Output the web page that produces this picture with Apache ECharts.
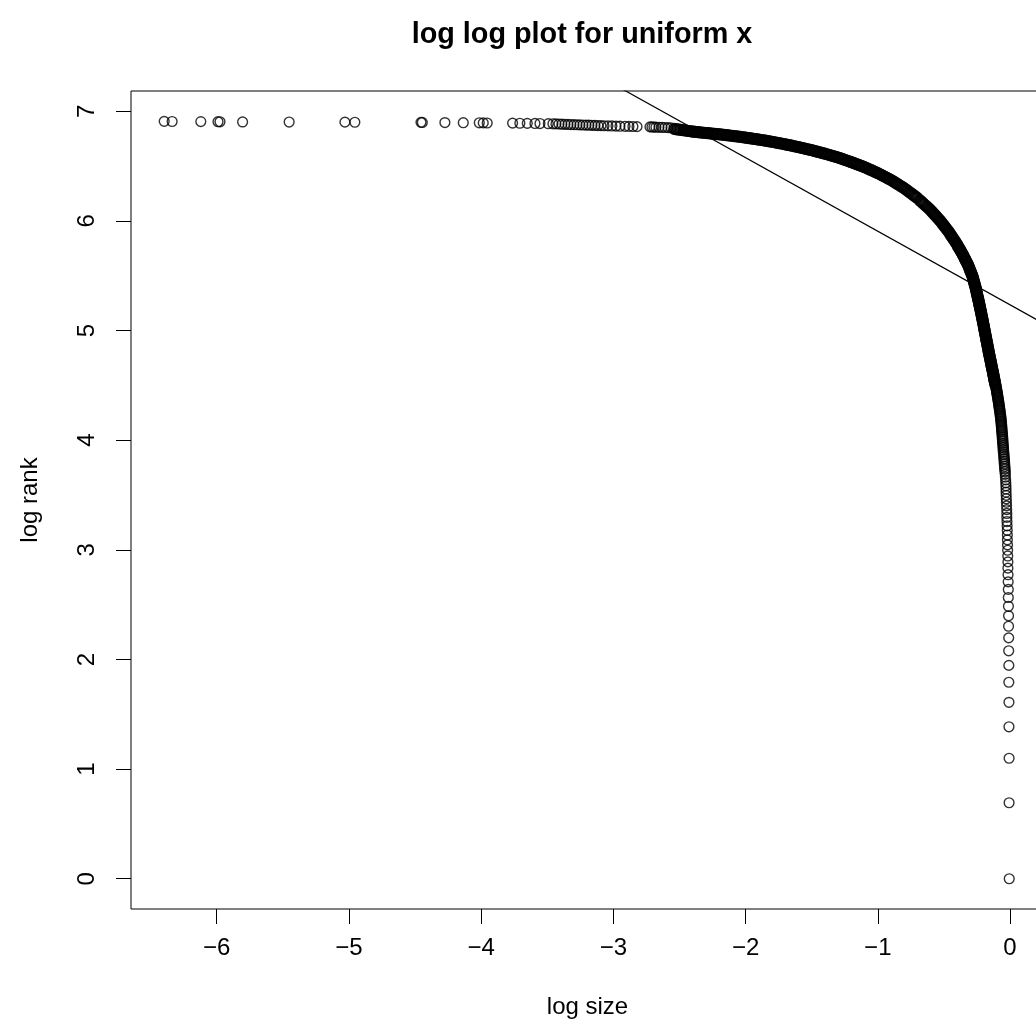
<!DOCTYPE html>
<html>
<head>
<meta charset="utf-8">
<script src="https://cdn.jsdelivr.net/npm/echarts@6/dist/echarts.min.js"></script>
<style>
html,body{margin:0;padding:0;background:#fff;}
#chart{width:1036px;height:1035px;}
</style>
</head>
<body>
<div id="chart"></div>
<script>
// ---- data ----
const titleText = 'log log plot for uniform x';
const xName = 'log size';
const yName = 'log rank';
const xTicks = [-6, -5, -4, -3, -2, -1, 0];
const yTicks = [0, 1, 2, 3, 4, 5, 6, 7];

// sparse left tail (highest ranks)
const tailSize = [-6.397,-6.337,-6.120,-5.990,-5.975,-5.804,-5.452,-5.030,-4.955,-4.455,-4.445,-4.274,-4.135,-4.014,-3.984,-3.954,-3.762,-3.707,-3.651,-3.593,-3.555,-3.492,
-3.457,-3.434,-3.411,-3.389,-3.366,-3.343,-3.321,-3.298,-3.275,-3.253,-3.230,-3.207,-3.185,-3.162,-3.139,-3.117,-3.094,-3.071,-3.041,-3.011,-2.980,-2.950,-2.912,-2.882,-2.852,-2.821,
-2.723,-2.708,-2.693,-2.678,-2.655,-2.632,-2.610,-2.587,-2.564];
const tailRank = [6.908,6.907,6.906,6.905,6.904,6.903,6.902,6.901,6.900,6.899,6.898,6.897,6.896,6.895,6.894,6.893,6.892,6.891,6.890,6.889,6.888,6.887,
6.886,6.885,6.884,6.882,6.881,6.880,6.879,6.878,6.877,6.876,6.875,6.874,6.873,6.872,6.871,6.870,6.869,6.868,6.867,6.866,6.865,6.864,6.863,6.862,6.861,6.860,
6.858,6.857,6.856,6.855,6.854,6.853,6.852,6.851,6.850];

// dense upper band (flat part)
const bandASize = [-2.54,-2.53,-2.52,-2.51,-2.50,
-2.49,-2.48,-2.47,-2.46,-2.45,-2.44,-2.43,-2.42,-2.41,-2.40,
-2.39,-2.38,-2.37,-2.36,-2.35,-2.34,-2.33,-2.32,-2.31,-2.30,
-2.29,-2.28,-2.27,-2.26,-2.25,-2.24,-2.23,-2.22,-2.21,-2.20,
-2.19,-2.18,-2.17,-2.16,-2.15,-2.14,-2.13,-2.12,-2.11,-2.10,
-2.09,-2.08,-2.07,-2.06,-2.05,-2.04,-2.03,-2.02,-2.01,-2.00,
-1.99,-1.98,-1.97,-1.96,-1.95,-1.94,-1.93,-1.92,-1.91,-1.90,
-1.89,-1.88,-1.87,-1.86,-1.85,-1.84,-1.83,-1.82,-1.81,-1.80,
-1.79,-1.78,-1.77,-1.76,-1.75,-1.74,-1.73,-1.72,-1.71,-1.70,
-1.69,-1.68,-1.67,-1.66,-1.65,-1.64,-1.63,-1.62,-1.61,-1.60,
-1.59,-1.58,-1.57,-1.56,-1.55,-1.54,-1.53,-1.52,-1.51,-1.50,
-1.49,-1.48,-1.47,-1.46,-1.45,-1.44,-1.43,-1.42,-1.41,-1.40,
-1.39,-1.38,-1.37,-1.36,-1.35,-1.34,-1.33,-1.32,-1.31,-1.30,
-1.29,-1.28,-1.27,-1.26,-1.25,-1.24,-1.23,-1.22,-1.21,-1.20,
-1.19,-1.18,-1.17,-1.16,-1.15,-1.14,-1.13,-1.12,-1.11,-1.10,
-1.09,-1.08,-1.07,-1.06,-1.05,-1.04,-1.03,-1.02,-1.01,-1.00,
-0.99,-0.98,-0.97,-0.96,-0.95,-0.94,-0.93,-0.92,-0.91,-0.90,
-0.89,-0.88,-0.87,-0.86,-0.85,-0.84,-0.83,-0.82,-0.81,-0.80,
-0.79,-0.78,-0.77,-0.76,-0.75,-0.74,-0.73,-0.72,-0.71,-0.70];
const bandARank = [6.839,6.837,6.835,6.834,6.832,
6.830,6.829,6.827,6.825,6.824,6.822,6.820,6.818,6.817,6.815,
6.814,6.812,6.811,6.810,6.808,6.807,6.806,6.804,6.803,6.802,
6.801,6.800,6.798,6.797,6.796,6.795,6.794,6.792,6.791,6.790,
6.789,6.787,6.786,6.784,6.783,6.782,6.780,6.779,6.777,6.776,
6.774,6.773,6.771,6.770,6.768,6.766,6.765,6.763,6.762,6.760,
6.758,6.756,6.755,6.753,6.751,6.749,6.747,6.746,6.744,6.742,
6.740,6.738,6.736,6.734,6.732,6.730,6.728,6.726,6.724,6.722,
6.720,6.717,6.715,6.713,6.710,6.708,6.706,6.704,6.701,6.699,
6.696,6.694,6.691,6.689,6.686,6.683,6.681,6.678,6.676,6.673,
6.670,6.667,6.665,6.662,6.659,6.656,6.653,6.651,6.648,6.645,
6.642,6.639,6.635,6.632,6.629,6.626,6.623,6.619,6.616,6.613,
6.610,6.606,6.603,6.599,6.596,6.592,6.589,6.585,6.582,6.578,
6.574,6.570,6.565,6.561,6.557,6.553,6.549,6.544,6.540,6.536,
6.531,6.527,6.522,6.518,6.513,6.508,6.504,6.499,6.495,6.490,
6.485,6.479,6.474,6.468,6.463,6.458,6.452,6.447,6.441,6.436,
6.430,6.423,6.417,6.411,6.405,6.398,6.392,6.386,6.379,6.373,
6.366,6.358,6.351,6.343,6.336,6.328,6.321,6.313,6.306,6.298,
6.289,6.280,6.271,6.262,6.253,6.244,6.235,6.226,6.217,6.208];

// dense band: bend and steep part
const bandBRank = [6.19,6.18,6.17,6.16,6.15,6.14,6.13,6.12,6.11,6.10,
6.09,6.08,6.07,6.06,6.05,6.04,6.03,6.02,6.01,6.00,
5.99,5.98,5.97,5.96,5.95,5.94,5.93,5.92,5.91,5.90,
5.89,5.88,5.87,5.86,5.85,5.84,5.83,5.82,5.81,5.80,
5.79,5.78,5.77,5.76,5.75,5.74,5.73,5.72,5.71,5.70,
5.69,5.68,5.67,5.66,5.65,5.64,5.63,5.62,5.61,5.60,
5.59,5.58,5.57,5.56,5.55,5.54,5.53,5.52,5.51,5.50,
5.49,5.48,5.47,5.46,5.45,5.44,5.43,5.42,5.41,5.40,
5.39,5.38,5.37,5.36,5.35,5.34,5.33,5.32,5.31,5.30,
5.29,5.28,5.27,5.26,5.25,5.24,5.23,5.22,5.21,5.20,
5.19,5.18,5.17,5.16,5.15,5.14,5.13,5.12,5.11,5.10,
5.09,5.08,5.07,5.06,5.05,5.04,5.03,5.02,5.01,5.00,
4.99,4.98,4.97,4.96,4.95,4.94,4.93,4.92,4.91,4.90,
4.89,4.88,4.87,4.86,4.85,4.84,4.83,4.82,4.81,4.80,
4.79,4.78,4.77,4.76,4.75,4.74,4.73,4.72,4.71,4.70,
4.69,4.68,4.67,4.66,4.65,4.64,4.63,4.62,4.61,4.60,
4.59,4.58,4.57,4.56,4.55,4.54,4.53,4.52,4.51];
const bandBSize = [-0.684,-0.675,-0.666,-0.657,-0.648,-0.638,-0.629,-0.620,-0.611,-0.602,
-0.595,-0.587,-0.580,-0.572,-0.565,-0.557,-0.550,-0.542,-0.535,-0.527,
-0.521,-0.514,-0.508,-0.501,-0.495,-0.489,-0.482,-0.476,-0.469,-0.463,
-0.458,-0.452,-0.447,-0.441,-0.436,-0.430,-0.425,-0.419,-0.414,-0.408,
-0.403,-0.398,-0.394,-0.389,-0.384,-0.379,-0.374,-0.370,-0.365,-0.360,
-0.356,-0.352,-0.347,-0.343,-0.339,-0.335,-0.331,-0.326,-0.322,-0.318,
-0.315,-0.311,-0.308,-0.305,-0.302,-0.298,-0.295,-0.292,-0.288,-0.285,
-0.283,-0.280,-0.278,-0.276,-0.274,-0.271,-0.269,-0.267,-0.264,-0.262,
-0.260,-0.258,-0.256,-0.254,-0.253,-0.251,-0.249,-0.247,-0.245,-0.243,
-0.241,-0.239,-0.238,-0.236,-0.234,-0.232,-0.230,-0.229,-0.227,-0.225,
-0.223,-0.222,-0.220,-0.218,-0.217,-0.215,-0.213,-0.211,-0.210,-0.208,
-0.206,-0.205,-0.203,-0.202,-0.200,-0.198,-0.197,-0.195,-0.194,-0.192,
-0.190,-0.189,-0.187,-0.186,-0.184,-0.182,-0.181,-0.179,-0.178,-0.176,
-0.174,-0.173,-0.171,-0.170,-0.168,-0.166,-0.165,-0.163,-0.162,-0.160,
-0.158,-0.157,-0.155,-0.153,-0.152,-0.150,-0.148,-0.146,-0.145,-0.143,
-0.141,-0.140,-0.138,-0.136,-0.135,-0.133,-0.131,-0.129,-0.128,-0.126,
-0.124,-0.123,-0.121,-0.120,-0.118,-0.116,-0.115,-0.113,-0.112];

// ranks 90 down to 41 (still closely packed)
const midRank = [4.500,4.489,4.477,4.466,4.454,4.443,4.431,4.419,4.407,4.394,
4.382,4.369,4.357,4.344,4.331,4.317,4.304,4.290,4.277,4.263,
4.248,4.234,4.220,4.205,4.190,4.174,4.159,4.143,4.127,4.111,
4.094,4.078,4.060,4.043,4.025,4.007,3.989,3.970,3.951,3.932,
3.912,3.892,3.871,3.850,3.829,3.807,3.784,3.761,3.738,3.714];
const midSize = [-0.108,-0.106,-0.105,-0.103,-0.101,-0.100,-0.098,-0.096,-0.095,-0.093,
-0.091,-0.090,-0.088,-0.086,-0.085,-0.083,-0.081,-0.080,-0.078,-0.077,
-0.075,-0.073,-0.072,-0.070,-0.069,-0.068,-0.066,-0.065,-0.064,-0.063,
-0.062,-0.061,-0.059,-0.058,-0.057,-0.056,-0.055,-0.054,-0.052,-0.051,
-0.050,-0.049,-0.047,-0.046,-0.044,-0.043,-0.042,-0.040,-0.039,-0.037];

// lowest ranks (40 down to 1), near log size 0
const lowRank = [3.689,3.664,3.638,3.611,3.584,3.555,3.526,3.497,3.466,3.434,
3.401,3.367,3.332,3.296,3.258,3.219,3.178,3.135,3.091,3.045,
2.996,2.944,2.890,2.833,2.773,2.708,2.639,2.565,2.485,2.398,
2.303,2.197,2.079,1.946,1.792,1.609,1.386,1.099,0.693,0.000];
const lowSize = [-0.036,-0.035,-0.033,-0.032,-0.031,-0.030,-0.030,-0.029,-0.028,-0.027,
-0.026,-0.025,-0.024,-0.024,-0.023,-0.022,-0.021,-0.020,-0.020,-0.019,
-0.018,-0.017,-0.016,-0.016,-0.015,-0.014,-0.013,-0.013,-0.012,-0.011,
-0.011,-0.010,-0.010,-0.009,-0.009,-0.008,-0.008,-0.007,-0.007,-0.006];

// fitted straight line, two end points
const fitSize = [-3.2, 0.4];
const fitRank = [7.382, 4.967];

// ---- chart ----
const FONT = '"Liberation Sans", Arial, Helvetica, sans-serif';
function pairs(xs, ys) { const out = []; for (let i = 0; i < xs.length; i++) out.push([xs[i], ys[i]]); return out; }
const sparsePoints = pairs(tailSize, tailRank).concat(pairs(lowSize, lowRank));
const midPoints = pairs(midSize, midRank);
const densePoints = pairs(bandASize, bandARank).concat(pairs(bandBSize, bandBRank));
const fitLine = pairs(fitSize, fitRank);

const minusFmt = v => (v < 0 ? '\u2212' + Math.abs(v) : String(v));
const ringStyle = w => ({color: 'rgba(0,0,0,0)', borderColor: '#000', borderWidth: w});

const chart = echarts.init(document.getElementById('chart'), null, {renderer: 'canvas'});
chart.setOption({
  animation: false,
  backgroundColor: '#ffffff',
  textStyle: {fontFamily: FONT, color: '#000'},
  title: {
    text: titleText,
    left: 577, top: 16, textAlign: 'center',
    textStyle: {fontFamily: FONT, fontSize: 28.8, fontWeight: 'bold', color: '#000'}
  },
  grid: {left: 131, top: 91, width: 913, height: 818, show: true, borderColor: '#000', borderWidth: 1,
         backgroundColor: 'transparent', containLabel: false, outerBoundsMode: 'none'},
  xAxis: {
    type: 'value', min: -6.648, max: 0.257,
    name: xName, nameLocation: 'middle', nameGap: 86,
    nameTextStyle: {fontFamily: FONT, fontSize: 24, color: '#000'},
    axisLine: {show: false, onZero: false},
    axisTick: {show: true, inside: false, length: 15, customValues: xTicks, lineStyle: {color: '#000', width: 1}},
    axisLabel: {show: true, customValues: xTicks, margin: 27, fontFamily: FONT, fontSize: 24, color: '#000', formatter: minusFmt},
    splitLine: {show: false}
  },
  yAxis: {
    type: 'value', min: -0.276, max: 7.185,
    name: yName, nameLocation: 'middle', nameGap: 89, nameRotate: 90,
    nameTextStyle: {fontFamily: FONT, fontSize: 24, color: '#000'},
    axisLine: {show: false, onZero: false},
    axisTick: {show: true, inside: false, length: 15, customValues: yTicks, lineStyle: {color: '#000', width: 1}},
    axisLabel: {show: true, customValues: yTicks, margin: 32, rotate: 90, fontFamily: FONT, fontSize: 24, color: '#000', formatter: minusFmt},
    splitLine: {show: false}
  },
  series: [
    {
      type: 'scatter', data: sparsePoints, symbol: 'circle', symbolSize: 9.8,
      itemStyle: ringStyle(1.4),
      emphasis: {disabled: true}, silent: true, clip: true, progressive: 0
    },
    {
      type: 'scatter', data: midPoints, symbol: 'circle', symbolSize: 9.9,
      itemStyle: ringStyle(1.8),
      emphasis: {disabled: true}, silent: true, clip: true, progressive: 0
    },
    {
      type: 'scatter', data: densePoints, symbol: 'circle', symbolSize: 10,
      itemStyle: ringStyle(2.2),
      emphasis: {disabled: true}, silent: true, clip: true, progressive: 0
    },
    {
      type: 'line', data: fitLine, symbol: 'none', showSymbol: false, clip: true,
      lineStyle: {color: '#000', width: 1.2}, silent: true, emphasis: {disabled: true}
    }
  ]
});
</script>
</body>
</html>
